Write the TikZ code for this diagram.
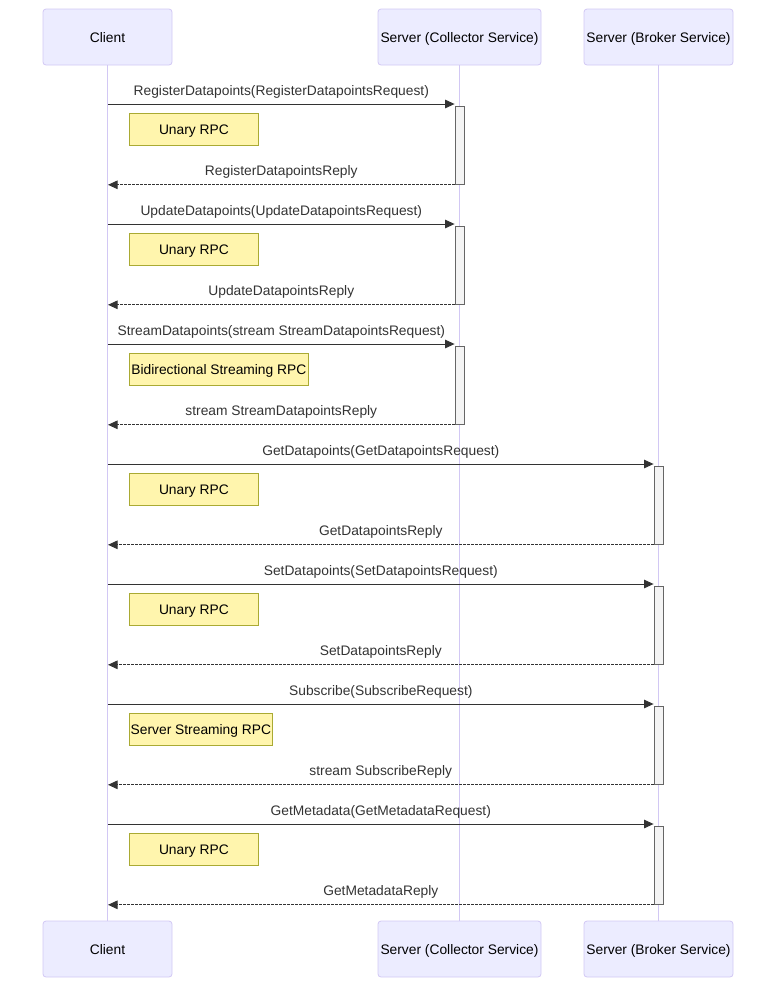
\documentclass[tikz,border=0pt]{standalone}
\usepackage{fontspec}
\setmainfont{Liberation Sans}
\usetikzlibrary{arrows.meta}
\definecolor{actorfill}{HTML}{ECECFF}
\definecolor{actorline}{HTML}{D2C8F4}
\definecolor{notefill}{HTML}{FFF5AD}
\definecolor{noteline}{HTML}{AAAA33}
\definecolor{actfill}{HTML}{F4F4F4}
\definecolor{actline}{HTML}{666666}
\definecolor{msg}{HTML}{333333}
\begin{document}
\begin{tikzpicture}[x=1pt,y=-1pt,
  font=\fontsize{13.8}{16}\selectfont,
  actor/.style={draw=actorline, fill=actorfill, rounded corners=3pt,
    minimum width=#1, minimum height=56pt, inner sep=0pt, line width=0.8pt,
    text height=10pt, text depth=0pt},
  life/.style={draw=actorline, line width=1.1pt},
  actbox/.style={draw=actline, fill=actfill, minimum width=9pt,
    minimum height=78pt, inner sep=0pt, anchor=north, line width=0.8pt},
  notebox/.style={draw=noteline, fill=notefill, minimum height=32pt,
    inner sep=0pt, anchor=north west, line width=0.8pt,
    text height=10pt, text depth=0pt},
  call/.style={draw=msg, line width=1pt, -{Triangle[length=9.5pt,width=8.5pt]}},
  reply/.style={call, dash pattern=on 2.5pt off 1.5pt},
  lbl/.style={text=msg, anchor=base, yshift=9pt, inner sep=0pt}]
\useasboundingbox (0,0) rectangle (784,997);

% participants, top and bottom
\node[actor=129pt] (ct) at (107.5,37) {Client};
\node[actor=163pt] (lt) at (459.5,37) {Server (Collector Service)};
\node[actor=149pt] (bt) at (658.5,37) {Server (Broker Service)};
\node[actor=129pt] (cb) at (107.5,949) {Client};
\node[actor=163pt] (lb) at (459.5,949) {Server (Collector Service)};
\node[actor=149pt] (bb) at (658.5,949) {Server (Broker Service)};

% lifelines
\draw[life] (ct.south) -- (cb.north);
\draw[life] (lt.south) -- (lb.north);
\draw[life] (bt.south) -- (bb.north);

% calls, replies, activations and notes
\foreach \i/\ax/\req/\rep/\nt/\nw in {
  0/459.5/{RegisterDatapoints(RegisterDatapointsRequest)}/{RegisterDatapointsReply}/{Unary RPC}/129,
  1/459.5/{UpdateDatapoints(UpdateDatapointsRequest)}/{UpdateDatapointsReply}/{Unary RPC}/129,
  2/459.5/{StreamDatapoints(stream StreamDatapointsRequest)}/{stream StreamDatapointsReply}/{Bidirectional Streaming RPC}/179,
  3/658.5/{GetDatapoints(GetDatapointsRequest)}/{GetDatapointsReply}/{Unary RPC}/129,
  4/658.5/{SetDatapoints(SetDatapointsRequest)}/{SetDatapointsReply}/{Unary RPC}/129,
  5/658.5/{Subscribe(SubscribeRequest)}/{stream SubscribeReply}/{Server Streaming RPC}/143,
  6/658.5/{GetMetadata(GetMetadataRequest)}/{GetMetadataReply}/{Unary RPC}/129}
{
  \pgfmathsetmacro\yy{104+120*\i}
  \coordinate (c\i) at (108,\yy);
  \node[actbox] (a\i) at (\ax,{\yy+2}) {};
  \draw[call] (c\i) -- (c\i -| a\i.west) node[midway, lbl] {\req};
  \draw[reply] (a\i.south west) -- (a\i.south west -| c\i) node[midway, lbl] {\rep};
  \node[notebox, minimum width=\nw pt] (n\i) at (129,{\yy+9}) {\nt};
}
\end{tikzpicture}
\end{document}
